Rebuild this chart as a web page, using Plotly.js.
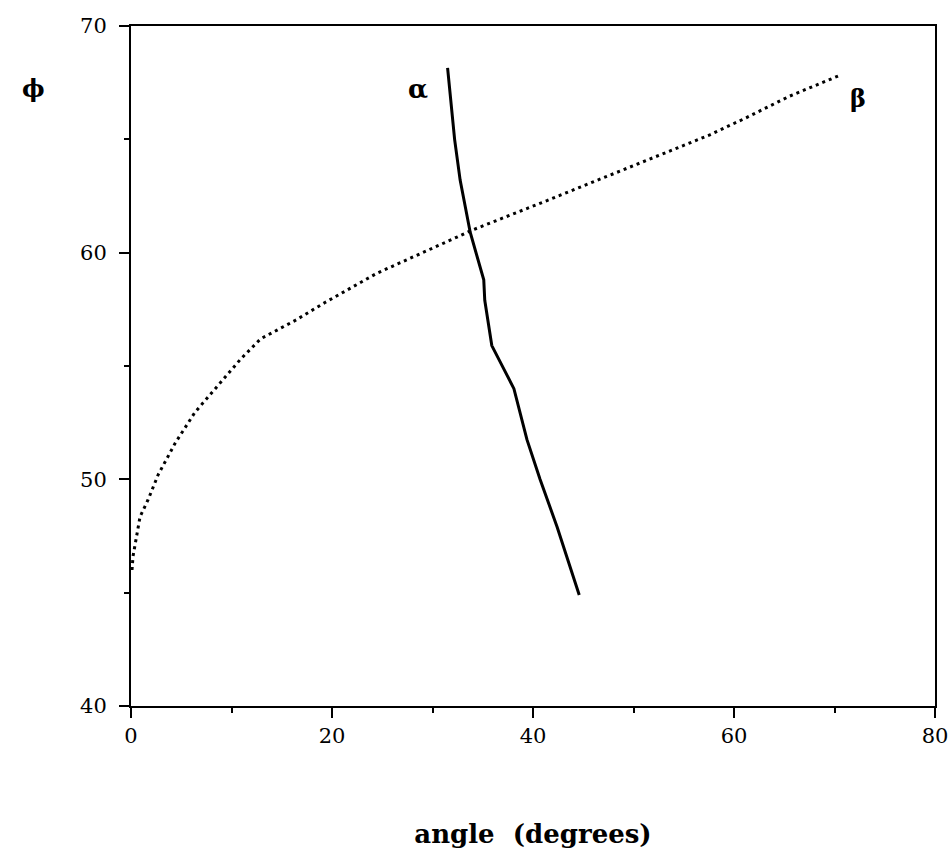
<!DOCTYPE html>
<html>
<head>
<meta charset="utf-8">
<script src="https://cdn.plot.ly/plotly-3.0.1.min.js"></script>
<style>html,body{margin:0;padding:0;background:#fff;}#chart{width:949px;height:858px;}</style>
</head>
<body>
<div id="chart"></div>
<script>
// beta curve (dotted)
const betaAngle = [0.1, 0.2, 0.9, 1.7, 2.7, 4.4, 6.35, 8.6, 10.9, 12.9, 16.3, 19.3, 24.5, 32.5, 33.7, 41.4, 47.0, 53.6, 57.6, 61.2, 65.5, 70.4];
const betaPhi   = [46.0, 46.6, 48.35, 49.1, 50.2, 51.6, 52.95, 54.1, 55.3, 56.2, 57.0, 57.8, 59.1, 60.7, 60.95, 62.3, 63.3, 64.5, 65.2, 65.95, 66.9, 67.8];
// alpha curve (solid)
const alphaAngle = [31.5, 32.2, 32.75, 33.75, 35.1, 35.2, 35.9, 38.1, 39.4, 40.7, 42.4, 44.6];
const alphaPhi   = [68.15, 65.0, 63.2, 60.9, 58.8, 57.9, 55.9, 54.0, 51.75, 50.0, 47.9, 44.9];

const xTickVals = [0, 20, 40, 60, 80];
const yTickVals = [40, 50, 60, 70];

const serif = "DejaVu Serif, Liberation Serif, serif";

const traces = [
  {x: betaAngle, y: betaPhi, mode: 'lines', line: {color: '#000', width: 3, dash: '3px,4px'}, hoverinfo: 'skip'},
  {x: alphaAngle, y: alphaPhi, mode: 'lines', line: {color: '#000', width: 3}, hoverinfo: 'skip'}
];

const axisCommon = {
  showgrid: false, zeroline: false, showline: true, linecolor: '#000', linewidth: 2,
  mirror: true, ticks: 'outside', ticklen: 10, tickwidth: 2, tickcolor: '#000',
  tickfont: {family: serif, size: 21, color: '#000'}, ticklabeloverflow: 'allow'
};

const layout = {
  width: 949, height: 858,
  margin: {l: 131, r: 14, t: 26, b: 152},
  paper_bgcolor: '#fff', plot_bgcolor: '#fff',
  showlegend: false,
  xaxis: Object.assign({}, axisCommon, {
    range: [0, 80], tickmode: 'array', tickvals: xTickVals, ticktext: xTickVals.map(String),
    minor: {ticks: 'outside', ticklen: 5, tickwidth: 2, tickcolor: '#000', dtick: 10, tick0: 0, showgrid: false},
    title: {text: 'angle  (degrees)', font: {family: serif, size: 26, color: '#000', weight: 'bold'}, standoff: 78},
    automargin: false
  }),
  yaxis: Object.assign({}, axisCommon, {
    range: [40, 70], tickmode: 'array', tickvals: yTickVals, ticktext: yTickVals.map(String),
    minor: {ticks: 'outside', ticklen: 5, tickwidth: 2, tickcolor: '#000', dtick: 5, tick0: 40, showgrid: false},
    ticklabelstandoff: 8,
    automargin: false
  }),
  annotations: [
    {x: 28.6, y: 67.2, xref: 'x', yref: 'y', text: '<b>α</b>', showarrow: false, font: {family: serif, size: 26, color: '#000'}},
    {x: 72.3, y: 66.8, xref: 'x', yref: 'y', text: '<b>β</b>', showarrow: false, font: {family: serif, size: 24, color: '#000'}},
    {x: -0.138, y: 0.932, xref: 'paper', yref: 'paper', text: '<b>ϕ</b>', showarrow: false, font: {family: serif, size: 24, color: '#000'}}
  ]
};

Plotly.newPlot('chart', traces, layout, {displayModeBar: false, staticPlot: true});
</script>
</body>
</html>
